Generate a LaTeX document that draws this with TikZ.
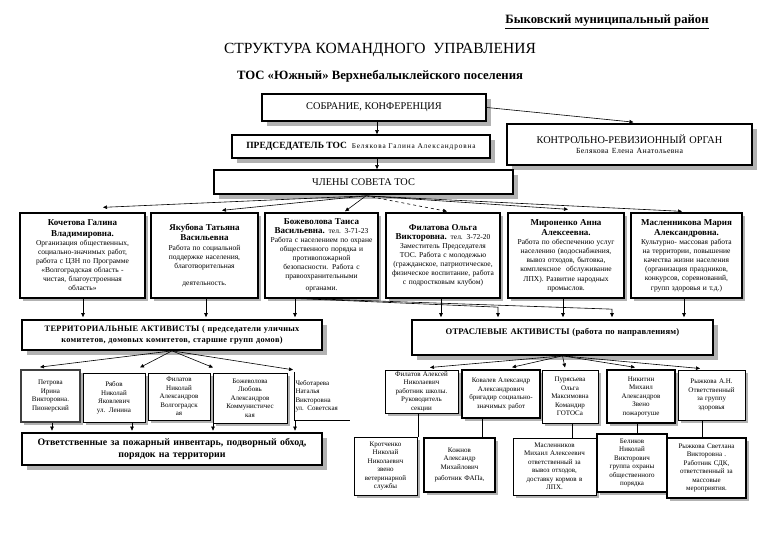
\documentclass[tikz,border=0pt]{standalone}
\usepackage{fontspec}
\setmainfont{Liberation Serif}
\usetikzlibrary{shadows,arrows.meta,calc}
\newcommand\myfs[2]{\fontsize{#1}{#2}\selectfont}
\newcommand\lsp[1]{\addfontfeature{LetterSpace=#1}}
\tikzset{
  arr/.style={-{Triangle[length=4pt,width=3.5pt]}, line width=0.6pt},
  conn/.style={line width=0.6pt},
  bigbox/.style={draw, fill=white, line width=1.7pt, inner sep=1pt, align=center,
    drop shadow={shadow xshift=5pt, shadow yshift=-5pt, fill=black!30, opacity=1}},
  mbox/.style={draw, fill=white, line width=1.3pt, inner sep=0.5pt, align=center,
    minimum height=85pt, font=\myfs{7.5}{9.1},
    drop shadow={shadow xshift=3pt, shadow yshift=-3pt, fill=black!30, opacity=1}},
  sbox/.style={draw, fill=white, line width=1pt, inner sep=1pt, align=center,
    font=\myfs{7}{8.5},
    drop shadow={shadow xshift=3pt, shadow yshift=-3pt, fill=black!30, opacity=1}}
}
\newcommand\nmf{\myfs{9}{10.3}\bfseries}
\begin{document}
\begin{tikzpicture}[x=1pt,y=-1pt]
\useasboundingbox (0,0) rectangle (760,537);
\fill[white] (0,0) rectangle (760,537);

% headers
\node[font=\myfs{12.7}{15}\bfseries] (hdr) at (607,22) {\underline{Быковский муниципальный район}};
\node[font=\myfs{15.5}{18}] (title) at (380,50) {СТРУКТУРА\ КОМАНДНОГО\ \ УПРАВЛЕНИЯ};
\node[font=\myfs{12.7}{15}\bfseries] (sub) at (380,76) {ТОС «Южный» Верхнебалыклейского поселения};

% top boxes
\node[bigbox, minimum width=224pt, minimum height=27pt, font=\myfs{10.3}{12}] (sobr) at (374,107.5) {СОБРАНИЕ, КОНФЕРЕНЦИЯ};
\node[bigbox, minimum width=245pt, minimum height=41pt, text width=241pt, font=\myfs{10.3}{12}] (kro) at (629.5,144.5) {КОНТРОЛЬНО-РЕВИЗИОННЫЙ ОРГАН\par{\myfs{7.8}{10}\lsp{5}Белякова Елена Анатольевна\par}};
\node[bigbox, minimum width=258pt, minimum height=23pt] (pred) at (361,146.5) {\myfs{9.5}{11}\textbf{ПРЕДСЕДАТЕЛЬ ТОС}\ \ {\myfs{7.3}{11}\lsp{12}Белякова Галина Александровна}};
\node[bigbox, minimum width=299pt, minimum height=24pt, font=\myfs{10.3}{12}] (chl) at (363.5,182) {ЧЛЕНЫ СОВЕТА ТОС};

\draw[arr] (sobr.east) -- ([xshift=4pt,yshift=1pt]kro.north);
\draw[arr] ([xshift=3pt]sobr.south) -- ([xshift=3pt]sobr.south |- pred.north);
\draw[arr] ([xshift=16pt]pred.south) -- ([xshift=16pt]pred.south |- chl.north);

% members
\node[mbox, minimum width=125pt, text width=124pt] (m1) at (82.5,255.5) {{\nmf Кочетова Галина\\Владимировна.\par}Организация общественных,\\социально-значимых работ,\\работа с ЦЗН по Программе\\«Волгоградская область -\\чистая, благоустроенная\\область»};
\node[mbox, minimum width=107pt, text width=106pt] (m2) at (204.5,255.5) {{\nmf Якубова Татьяна\\Васильевна\par}Работа по социальной\\поддержке населения,\\благотворительная\\[8pt]деятельность.};
\node[mbox, minimum width=113pt, text width=112pt] (m3) at (321.5,255.5) {{\nmf Божеволова Таиса\\Васильевна.} тел. 3-71-23\par Работа с населением по охране\\общественного порядка и\\противопожарной\\безопасности. Работа с\\правоохранительными\\[3pt]органами.};
\node[mbox, minimum width=114pt, text width=113pt] (m4) at (443,255.5) {{\nmf Филатова Ольга\\Викторовна.} тел. 3-72-20\par Заместитель Председателя\\ТОС. Работа с молодежью\\(гражданское, патриотическое,\\физическое воспитание, работа\\с подростковым клубом)};
\node[mbox, minimum width=116pt, text width=115pt] (m5) at (566,255.5) {{\nmf Мироненко Анна\\Алексеевна.\par}Работа по обеспечению услуг\\населению (водоснабжения,\\вывоз отходов, бытовка,\\комплексное\ \ обслуживание\\ЛПХ). Развитие народных\\промыслов.};
\node[mbox, minimum width=111pt, text width=110pt] (m6) at (686.5,255.5) {{\nmf Масленникова Мария\\Александровна.\par}Культурно- массовая работа\\на территории, повышение\\качества жизни населения\\(организация праздников,\\конкурсов, соревнований,\\групп здоровья и т.д.)};

\coordinate (fan1) at ([xshift=2.5pt,yshift=-1pt]chl.south);
\draw[arr] (fan1) -- ([xshift=20.5pt,yshift=5pt]m1.north);
\draw[arr] (fan1) -- ([xshift=17.5pt,yshift=2pt]m2.north);
\draw[arr] (fan1) -- ([xshift=23.5pt,yshift=1pt]m3.north);
\draw[arr, dashed] (fan1) -- ([xshift=4pt,yshift=1pt]m4.north);
\draw[arr] (fan1) -- ([xshift=2pt,yshift=3pt]m5.north);
\draw[arr] (fan1) -- ([xshift=-4.5pt,yshift=1pt]m6.north);

% activist bars
\node[bigbox, minimum width=300pt, minimum height=30pt, text width=298pt, font=\myfs{8.3}{11}\bfseries\lsp{4}] (terr) at (172,335) {ТЕРРИТОРИАЛЬНЫЕ АКТИВИСТЫ ( председатели уличных\\комитетов, домовых комитетов, старшие групп домов)};
\node[bigbox, minimum width=301pt, minimum height=35pt, text width=297pt, font=\myfs{8.6}{12}\bfseries\lsp{2}] (otr) at (562.5,337.5) {ОТРАСЛЕВЫЕ АКТИВИСТЫ (работа по направлениям)\\\mbox{}};

\draw[arr, shorten >=2pt] ([xshift=0.5pt]m1.south) -- ([xshift=0.5pt]m1.south |- terr.north);
\draw[arr, shorten >=2pt] ([xshift=1.5pt]m2.south) -- ([xshift=1.5pt]m2.south |- terr.north);
\draw[arr, shorten >=2pt] ([xshift=-26.5pt]m3.south) -- ([xshift=-26.5pt]m3.south |- terr.north);
\draw[arr, shorten >=2pt] ([xshift=-2pt]m4.south) -- ([xshift=-2pt]m4.south |- otr.north);
\draw[arr, shorten >=2pt] ([xshift=-3pt]m5.south) -- ([xshift=-3pt]m5.south |- otr.north);
\draw[arr, shorten >=2pt] ([xshift=-2.5pt]m6.south) -- ([xshift=-2.5pt]m6.south |- otr.north);
\draw[arr, shorten >=2pt] ([xshift=-21.5pt]m3.south) -- ([xshift=-64.5pt,yshift=12pt]otr.north) -- ([xshift=-64.5pt]otr.north);
\draw[arr, shorten >=2pt] ([xshift=-12pt]m3.south) -- ([xshift=49.5pt,yshift=10pt]otr.north) -- ([xshift=49.5pt]otr.north);

% territorial activists
\node[sbox, line width=1.8pt, draw=black!75, minimum width=59pt, minimum height=52pt, text width=57pt] (b1) at (50.5,396) {Петрова\\Ирина\\Викторовна.\\Пионерский};
\node[sbox, minimum width=62pt, minimum height=49pt, text width=60pt] (b2) at (114,397.5) {Рябов\\Николай\\Яковлевич\\ул. Ленина};
\node[sbox, minimum width=62pt, minimum height=47pt, text width=60pt] (b3) at (179,396.5) {Филатов\\Николай\\Александров\\Волгоградск\\ая};
\node[sbox, minimum width=74pt, minimum height=50pt, text width=72pt] (b4) at (250,398) {Божеволова\\Любовь\\Александров\\Коммунистичес\\кая};
\node[fill=white, inner sep=1pt, align=left, font=\myfs{7}{8.5}, minimum width=56pt, minimum height=48pt, text width=53pt] (b5) at (322,396) {Чеботарева\\Наталья\\Викторовна\\ул. Советская};
\draw[line width=0.5pt] (b5.north west) -- (b5.south west) -- (b5.south east);

\coordinate (fan2) at (terr.south);
\draw[arr] (fan2) -- ([xshift=-10.5pt,yshift=2pt]b1.north);
\draw[arr] (fan2) -- ([xshift=26pt,yshift=5pt]b2.north);
\draw[arr] (fan2) -- ([xshift=-37pt,yshift=5pt]b4.north);
\draw[arr] (fan2) -- ([xshift=-29pt,yshift=2pt]b5.north);

\node[bigbox, minimum width=300pt, minimum height=32pt, text width=296pt, font=\myfs{9.9}{11.5}\bfseries] (otv) at (172,449) {Ответственные за пожарный инвентарь, подворный обход,\\порядок на территории};

\draw[arr, shorten >=1.5pt] ([xshift=1.5pt]b1.south) -- ([xshift=1.5pt]b1.south |- otv.north);
\draw[arr, shorten >=1.5pt] ([xshift=18pt]b2.south) -- ([xshift=18pt]b2.south |- otv.north);
\draw[arr, shorten >=1.5pt] ([xshift=-37pt]b4.south) -- ([xshift=-37pt]b4.south |- otv.north);
\draw[arr, shorten >=1.5pt] ([xshift=-27pt]b5.south) -- ([xshift=-27pt]b5.south |- otv.north);

% sector activists
\node[sbox, minimum width=73pt, minimum height=43pt, text width=71pt] (r1) at (421.5,391.5) {Филатов Алексей\\Николаевич\\работник школы.\\Руководитель\\секции};
\node[sbox, line width=1.4pt, minimum width=78pt, minimum height=48pt, text width=76pt] (r2) at (501,394) {Ковалев Александр\\Александрович\\бригадир социально-\\значимых работ};
\node[sbox, minimum width=56pt, minimum height=53pt, text width=54pt] (r3) at (570,396.5) {Пурясьева\\Ольга\\Максимовна\\Командир\\ГОТОСа};
\node[sbox, line width=1.3pt, minimum width=68pt, minimum height=53pt, text width=66pt] (r4) at (641,396.5) {Никитин\\Михаил\\Александров\\Звено\\пожаротуше};
\node[sbox, minimum width=67pt, minimum height=50pt, text width=65pt] (r5) at (711.5,395) {Рыжкова А.Н.\\Ответственный\\за группу\\здоровья};

\coordinate (fan3) at (otr.south);
\draw[arr] (fan3) -- ([xshift=8.5pt,yshift=2pt]r1.north);
\draw[arr] (fan3) -- ([xshift=11pt,yshift=2pt]r2.north);
\draw[arr] (fan3) -- ([xshift=-5pt,yshift=2pt]r3.north);
\draw[arr] (fan3) -- ([xshift=-6pt,yshift=2pt]r4.north);
\draw[arr] (fan3) -- ([xshift=-11.5pt,yshift=1pt]r5.north);

\node[sbox, minimum width=63pt, minimum height=58pt, text width=61pt] (k1) at (385.5,466) {Кротченко\\Николай\\Николаевич\\звено\\ветеринарной\\службы};
\node[sbox, line width=1.4pt, minimum width=71pt, minimum height=54pt, text width=69pt] (k2) at (459.5,465) {Кожнов\\Александр\\Михайлович\\[3pt]работник ФАПа,};
\node[sbox, minimum width=83pt, minimum height=57pt, text width=81pt] (k3) at (554.5,466.5) {Масленников\\Михаил Алексеевич\\ответственный за\\вывоз отходов,\\доставку кормов в\\ЛПХ.};
\node[sbox, line width=1.8pt, minimum width=70pt, minimum height=58pt, text width=68pt] (k4) at (632,463) {Беликов\\Николай\\Викторович\\группа охраны\\общественного\\порядка};
\node[sbox, line width=1.4pt, minimum width=79pt, minimum height=60pt, text width=77pt] (k5) at (706.5,468) {Рыжкова Светлана\\Викторовна .\\Работник СДК,\\ответственный за\\массовые\\мероприятия.};

\draw[conn] ([xshift=-3.5pt]r1.south) -- ([xshift=-3.5pt]r1.south |- k1.north);
\draw[conn] ([xshift=-19pt]r2.south) -- ([xshift=-19pt]r2.south |- k2.north);
\draw[conn] ([xshift=2pt]r3.south) -- ([xshift=2pt]r3.south |- k3.north);
\draw[conn] ([xshift=-4pt]r4.south) -- ([xshift=-4pt]r4.south |- k4.north);
\draw[conn] ([xshift=-9.5pt]r5.south) -- ([xshift=-9.5pt]r5.south |- k5.north);
\end{tikzpicture}
\end{document}
